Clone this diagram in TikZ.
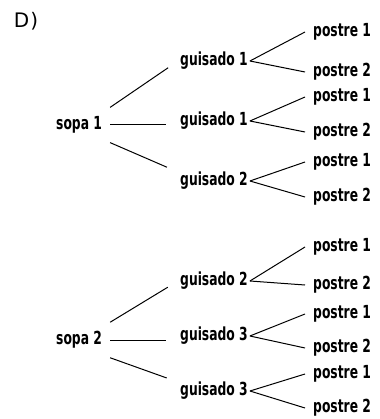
\documentclass[tikz,border=0pt]{standalone}
\usepackage{fontspec}
\setmainfont{DejaVu Sans}
\newfontfamily\treefont{DejaVu Sans Condensed}[BoldFont={DejaVu Sans Condensed Bold}, FakeStretch=0.76]
\usepackage{tikz}
\usetikzlibrary{positioning}

\tikzset{
  menu/.style={font=\treefont\bfseries\fontsize{18}{20}\selectfont, anchor=west},
  sopa/.style={menu, inner xsep=8pt, inner ysep=9pt},
  guisado/.style={menu, inner xsep=2pt, inner ysep=0pt},
  postre/.style={menu, inner xsep=8pt, inner ysep=0pt},
  rama/.style={line width=1pt},
}

\begin{document}
\begin{tikzpicture}[x=1pt, y=-1pt]
        \useasboundingbox (0,0) rectangle (379,419);
        \node[] (d) at (26,21) {\fontsize{20}{20}\selectfont D\kern1pt)};

        \node[sopa] (s1) at (48,125) {sopa 1};
        \node[guisado] (g1) at (178,61) {guisado 1};
        \node[guisado] (g2) at (178,121) {guisado 1};
        \node[guisado] (g3) at (178,181) {guisado 2};
        \node[postre] (p1) at (305,32) {postre 1};
        \node[postre] (p2) at (305,72) {postre 2};
        \node[postre] (p3) at (305,97) {postre 1};
        \node[postre] (p4) at (305,132) {postre 2};
        \node[postre] (p5) at (305,162) {postre 1};
        \node[postre] (p6) at (305,197) {postre 2};

        \draw[rama, shorten >=12pt] (s1.north east) -- (g1.west);
        \draw[rama, shorten >=12pt] (s1.east) -- (s1.east -| g2.west);
        \draw[rama, shorten >=12pt] (s1.south east) -- (g3.north west);
        \draw[rama] (g1.east) -- (p1.west);
        \draw[rama] (g1.east) -- (p2.west);
        \draw[rama] (g2.east) -- (p3.west);
        \draw[rama] (g2.east) -- (p4.west);
        \draw[rama] (g3.east) -- (p5.west);
        \draw[rama] (g3.east) -- (p6.west);

        \node[sopa] (s2) at (48,340) {sopa 2};
        \node[guisado] (g4) at (178,281) {guisado 2};
        \node[guisado] (g5) at (178,336) {guisado 3};
        \node[guisado] (g6) at (178,391) {guisado 3};
        \node[postre] (p7) at (305,247) {postre 1};
        \node[postre] (p8) at (305,285) {postre 2};
        \node[postre] (p9) at (305,314) {postre 1};
        \node[postre] (p10) at (305,348) {postre 2};
        \node[postre] (p11) at (305,374) {postre 1};
        \node[postre] (p12) at (305,408) {postre 2};

        \draw[rama, shorten >=12pt] (s2.north east) -- (g4.west);
        \draw[rama, shorten >=12pt] (s2.east) -- (s2.east -| g5.west);
        \draw[rama, shorten >=12pt] (s2.south east) -- (g6.north west);
        \draw[rama] (g4.east) -- (p7.west);
        \draw[rama] (g4.east) -- (p8.west);
        \draw[rama] (g5.east) -- (p9.west);
        \draw[rama] (g5.east) -- (p10.west);
        \draw[rama] (g6.east) -- (p11.west);
        \draw[rama] (g6.east) -- (p12.west);
\end{tikzpicture}
\end{document}
